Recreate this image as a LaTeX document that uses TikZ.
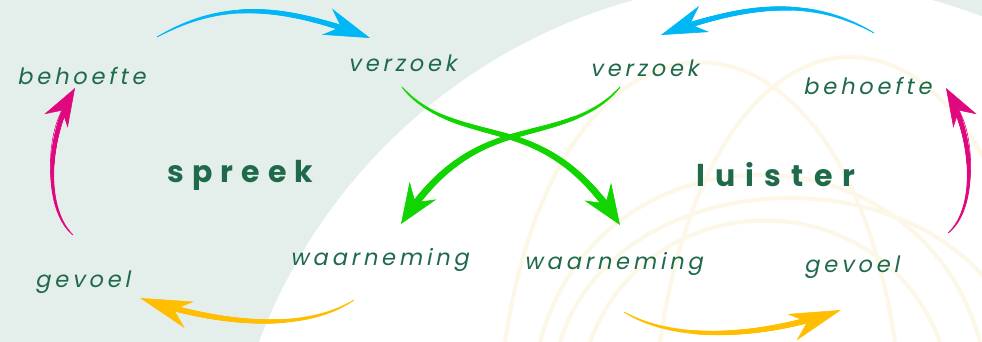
\documentclass[tikz,border=0pt]{standalone}
\usepackage{fontspec}
\setmainfont{Poppins}
\usetikzlibrary{arrows.meta,decorations.markings}
\definecolor{bgc}{HTML}{E4EEEB}
\definecolor{txt}{HTML}{1E6A4B}
\definecolor{cblue}{HTML}{00B7F6}
\definecolor{cmag}{HTML}{E0087F}
\definecolor{cyel}{HTML}{FFBF00}
\definecolor{cgrn}{HTML}{12D400}
\definecolor{cfaint}{HTML}{FDF7E8}
\newfontfamily\labfont{Poppins}[LetterSpace=17, FakeSlant=0.2]
\newfontfamily\bigfont{Poppins}[LetterSpace=27]
\newfontfamily\bigfontb{Poppins}[LetterSpace=34]
\tikzset{
  taper/.style n args={3}{postaction={decorate,decoration={markings,
    mark=between positions 0 and #3 step 0.004 with {
      \pgfmathsetmacro\tr{#1+(#2-#1)*sqrt((\pgfkeysvalueof{/pgf/decoration/mark info/sequence number}-1)*0.004/#3)}
      \fill (0,0) circle (\tr pt);}}}},
  lab/.style={font=\labfont\fontsize{22.5}{25}\selectfont, text=txt, inner sep=0pt, anchor=base west},
  big/.style={font=\bigfont\bfseries\fontsize{30}{34}\selectfont, text=txt, inner sep=0pt, anchor=base west},
  bigb/.style={font=\bigfontb\bfseries\fontsize{30}{34}\selectfont, text=txt, inner sep=0pt, anchor=base west},
  faint/.style={cfaint, line width=4pt},
}
\begin{document}
\begin{tikzpicture}[x=1pt,y=-1pt]
\useasboundingbox (0,0) rectangle (982,342);
\fill[bgc] (0,0) rectangle (982,342);
\begin{scope}
  \clip (0,0) rectangle (982,342);
  \fill[white] (783,540) circle (560pt);
  \clip (783,540) circle (560pt);
  \draw[faint] (505,342) .. controls (560,-31) and (840,-31) .. (895,342);
  \draw[faint] (660,342) .. controls (715,-38) and (985,-38) .. (1040,342);
  \draw[faint] (540,342) .. controls (600,119) and (920,119) .. (980,342);
  \draw[faint] (560,342) .. controls (620,150) and (960,150) .. (1020,342);
  \draw[faint] (590,342) .. controls (650,180) and (880,180) .. (940,342);
\end{scope}

% labels
\node[lab] (lbeh) at (17,85) {behoefte};
\node[lab] (lver) at (348,72) {verzoek};
\node[big] (spr) at (167,182) {spreek};
\node[lab] (lwaa) at (290,265) {waarneming};
\node[lab] (lgev) at (35,287) {gevoel};
\node[lab] (rver) at (590,77) {verzoek};
\node[lab] (rbeh) at (803,95) {behoefte};
\node[bigb] (lui) at (696,186) {luister};
\node[lab] (rwaa) at (524,269) {waarneming};
\node[lab] (rgev) at (804,272) {gevoel};

% arrow ends
\coordinate (lbT) at (157,37);  \coordinate (lbH) at (370,38);
\coordinate (rbT) at (874,33);  \coordinate (rbH) at (661,35);
\coordinate (lmT) at (73,235);  \coordinate (lmH) at (75,88);
\coordinate (rmT) at (948,233); \coordinate (rmH) at (946,88);
\coordinate (lyT) at (354,300); \coordinate (lyH) at (140,298);
\coordinate (ryT) at (624,312); \coordinate (ryH) at (841,310);
\coordinate (gaT) at (402,87);  \coordinate (gaH) at (620,225);
\coordinate (gbT) at (620,87);  \coordinate (gbH) at (401,224);
\coordinate (gX) at (510,137);

\draw[cblue, line width=0.6pt, -{Stealth[length=46pt,width=28pt,inset=15pt]}, taper={0.3}{2.8}{0.86}]
  (lbT) .. controls (215,5) and (270,0) .. (lbH);
\draw[cblue, line width=0.6pt, -{Stealth[length=46pt,width=28pt,inset=15pt]}, taper={0.3}{2.8}{0.86}]
  (rbT) .. controls (820,2) and (760,-2) .. (rbH);
\draw[cmag, line width=0.6pt, -{Stealth[length=38pt,width=27pt,inset=12pt]}, taper={0.3}{2.5}{0.82}]
  (lmT) .. controls (45,210) and (45,140) .. (lmH);
\draw[cmag, line width=0.6pt, -{Stealth[length=38pt,width=27pt,inset=12pt]}, taper={0.3}{2.5}{0.82}]
  (rmT) .. controls (976,210) and (976,140) .. (rmH);
\draw[cyel, line width=0.6pt, -{Stealth[length=52pt,width=28pt,inset=16pt]}, taper={0.3}{3}{0.83}]
  (lyT) .. controls (300,335) and (210,322) .. (lyH);
\draw[cyel, line width=0.6pt, -{Stealth[length=52pt,width=28pt,inset=16pt]}, taper={0.3}{3}{0.83}]
  (ryT) .. controls (680,345) and (770,335) .. (ryH);
\draw[cgrn, line width=0.6pt, -{Stealth[length=40pt,width=32pt,inset=14pt]}, taper={0.5}{3.6}{0.9}]
  (gaT) .. controls (430,120) and (470,125) .. (gX) .. controls (560,152) and (590,180) .. (gaH);
\draw[cgrn, line width=0.6pt, -{Stealth[length=40pt,width=32pt,inset=14pt]}, taper={0.5}{3.6}{0.9}]
  (gbT) .. controls (592,120) and (550,125) .. (gX) .. controls (460,152) and (430,180) .. (gbH);
\end{tikzpicture}
\end{document}
